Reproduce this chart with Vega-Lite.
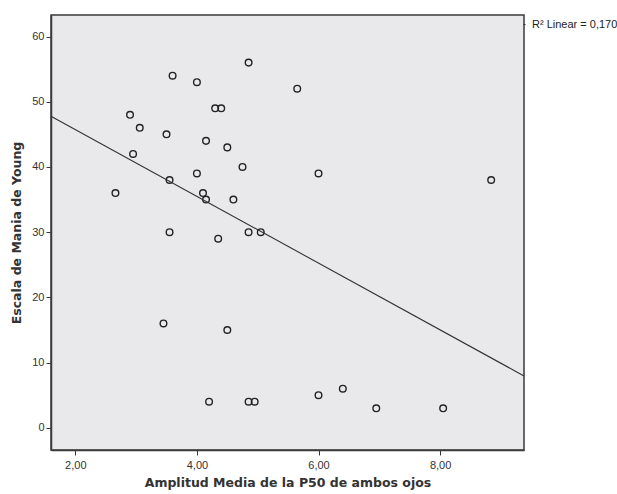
{
  "$schema": "https://vega.github.io/schema/vega-lite/v6.json",
  "width": 473,
  "height": 435,
  "autosize": {"type": "none"},
  "padding": {"left": 51, "top": 15, "right": 93, "bottom": 44},
  "background": "white",
  "config": {
    "view": {"fill": "#e9e9eb", "stroke": "#3a3a3a", "strokeWidth": 1.5},
    "axis": {
      "grid": false,
      "domainColor": "#3a3a3a",
      "domainWidth": 1.5,
      "tickColor": "#3a3a3a",
      "tickSize": 5,
      "labelFont": "Liberation Sans",
      "labelFontSize": 11,
      "labelColor": "#333333",
      "titleFont": "DejaVu Sans",
      "titleFontSize": 12.5,
      "titleFontWeight": "bold",
      "titleColor": "#333333"
    }
  },
  "data": {
    "values": [
      {"amp": 2.66, "mania": 36},
      {"amp": 2.90, "mania": 48},
      {"amp": 2.95, "mania": 42},
      {"amp": 3.06, "mania": 46},
      {"amp": 3.45, "mania": 16},
      {"amp": 3.50, "mania": 45},
      {"amp": 3.55, "mania": 38},
      {"amp": 3.55, "mania": 30},
      {"amp": 3.60, "mania": 54},
      {"amp": 4.00, "mania": 53},
      {"amp": 4.00, "mania": 39},
      {"amp": 4.10, "mania": 36},
      {"amp": 4.15, "mania": 44},
      {"amp": 4.15, "mania": 35},
      {"amp": 4.20, "mania": 4},
      {"amp": 4.30, "mania": 49},
      {"amp": 4.35, "mania": 29},
      {"amp": 4.40, "mania": 49},
      {"amp": 4.50, "mania": 43},
      {"amp": 4.50, "mania": 15},
      {"amp": 4.60, "mania": 35},
      {"amp": 4.75, "mania": 40},
      {"amp": 4.85, "mania": 56},
      {"amp": 4.85, "mania": 30},
      {"amp": 4.85, "mania": 4},
      {"amp": 4.95, "mania": 4},
      {"amp": 5.05, "mania": 30},
      {"amp": 5.65, "mania": 52},
      {"amp": 6.00, "mania": 39},
      {"amp": 6.00, "mania": 5},
      {"amp": 6.40, "mania": 6},
      {"amp": 6.95, "mania": 3},
      {"amp": 8.05, "mania": 3},
      {"amp": 8.84, "mania": 38}
    ]
  },
  "encoding": {
    "x": {
      "field": "amp",
      "type": "quantitative",
      "scale": {"domain": [1.6, 9.38], "nice": false, "zero": false},
      "axis": {
        "title": "Amplitud Media de la P50 de ambos ojos",
        "values": [2, 4, 6, 8],
        "labelExpr": "replace(format(datum.value, '.2f'), '.', ',')",
        "labelPadding": 4,
        "titlePadding": 6
      }
    },
    "y": {
      "field": "mania",
      "type": "quantitative",
      "scale": {"domain": [-3.4, 63.3], "nice": false, "zero": false},
      "axis": {
        "title": "Escala de Mania de Young",
        "values": [0, 10, 20, 30, 40, 50, 60],
        "labelPadding": 2,
        "titlePadding": 8
      }
    }
  },
  "layer": [
    {
      "mark": {"type": "point", "shape": "circle", "filled": false, "size": 44, "color": "#222222", "strokeWidth": 1.4, "opacity": 1}
    },
    {
      "transform": [{"regression": "mania", "on": "amp", "extent": [1.6, 9.38]}],
      "mark": {"type": "line", "strokeWidth": 1.1},
      "encoding": {
        "color": {
          "datum": "R² Linear = 0,170",
          "scale": {"range": ["#333333"]},
          "legend": {
            "title": null,
            "orient": "none",
            "legendX": 468,
            "legendY": 4,
            "padding": 0,
            "symbolType": "stroke",
            "symbolSize": 4,
            "symbolStrokeWidth": 1,
            "labelFont": "Liberation Sans",
            "labelFontSize": 11,
            "labelColor": "#222222",
            "labelOffset": 2,
            "labelLimit": 200
          }
        }
      }
    }
  ]
}
